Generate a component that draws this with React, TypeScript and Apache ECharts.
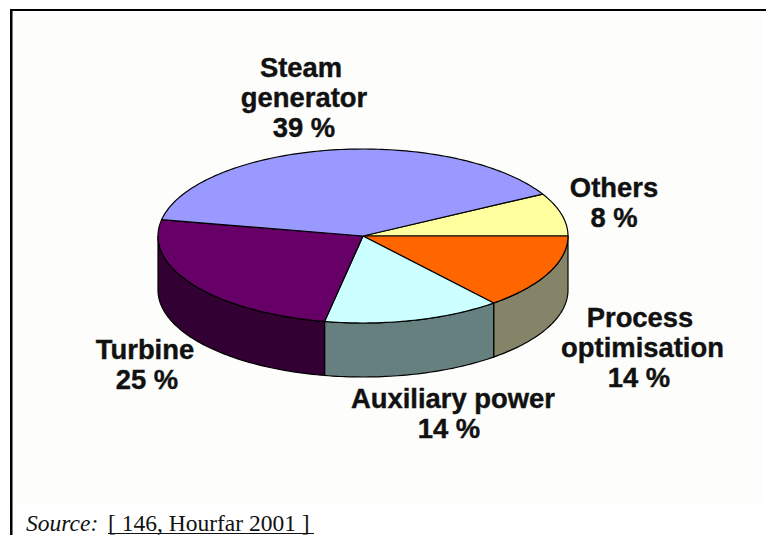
import React, { useEffect, useRef } from "react";
import * as echarts from "echarts";

const categories = ["Others", "Process optimisation", "Auxiliary power", "Turbine", "Steam generator"];
const values = [8, 14, 14, 25, 39];
const topColors = ["#ffffa0", "#ff6600", "#ccffff", "#660066", "#9999ff"];
const wallColors = ["#808050", "#858468", "#668080", "#330033", "#4c4c80"];
const labelLines = [
  ["Others", "8 %"],
  ["Process", "optimisation", "14 %"],
  ["Auxiliary power", "14 %"],
  ["Turbine", "25 %"],
  ["Steam", "generator", "39 %"],
];
const labelX = [
  [614, 614],
  [640, 642.5, 639],
  [453, 449],
  [145, 147],
  [301, 304, 304],
];
const labelTop = [187, 317, 398, 349, 67];

const CX = 363;
const CY = 236;
const RX = 205;
const RY = 87;
const DEPTH = 54;
const LINE_H = 30;
const total = values.reduce((a, b) => a + b, 0);
const startOffset = -(values[0] / total) * Math.PI * 2;

function arc(a0: number, a1: number, dy: number): number[][] {
  const pts: number[][] = [];
  const n = Math.max(2, Math.ceil(Math.abs(a1 - a0) / 0.02));
  for (let i = 0; i <= n; i++) {
    const a = a0 + ((a1 - a0) * i) / n;
    pts.push([CX + RX * Math.cos(a), CY + RY * Math.sin(a) + dy]);
  }
  return pts;
}

export default function App() {
  const ref = useRef<HTMLDivElement>(null);
  useEffect(() => {
    document.body.style.margin = "0";
    const chart = echarts.init(ref.current!, null, { renderer: "svg" });
    const labelGraphics: any[] = [];
    labelLines.forEach((lines, i) => {
      lines.forEach((line, j) => {
        labelGraphics.push({
          type: "text",
          z: 10,
          x: labelX[i][j],
          y: labelTop[i] + j * LINE_H,
          style: {
            text: line,
            fill: "#111111",
            stroke: "#111111",
            lineWidth: 0.4,
            font: 'bold 27.4px "Liberation Sans", Arial, sans-serif',
            textAlign: "center",
            textVerticalAlign: "middle",
          },
        });
      });
    });
    chart.setOption({
      animation: false,
      backgroundColor: "#ffffff",
      graphic: [
        { type: "rect", z: 0, shape: { x: 12, y: 11, width: 750, height: 492 }, style: { fill: "#fdfdfb" } },
        { type: "rect", z: 1, shape: { x: 10, y: 9, width: 756, height: 2 }, style: { fill: "#000000" } },
        { type: "rect", z: 1, shape: { x: 10, y: 9, width: 2.5, height: 526 }, style: { fill: "#000000" } },
        ...labelGraphics,
        {
          type: "text",
          z: 10,
          x: 26,
          y: 523,
          style: {
            text: "Source:",
            fill: "#111111",
            font: 'italic 23.5px "Liberation Serif", "Times New Roman", serif',
            textVerticalAlign: "middle",
          },
        },
        {
          type: "text",
          z: 10,
          x: 108,
          y: 523,
          style: {
            text: "[ 146, Hourfar 2001 ]",
            fill: "#111111",
            font: '23.5px "Liberation Serif", "Times New Roman", serif',
            textVerticalAlign: "middle",
          },
        },
        { type: "line", z: 10, shape: { x1: 108, y1: 533.5, x2: 314, y2: 533.5 }, style: { stroke: "#111111", lineWidth: 1 } },
      ],
      series: [
        {
          type: "custom",
          coordinateSystem: "none",
          name: "Share",
          clip: false,
          data: values.map((v, i) => ({ name: categories[i], value: v })),
          renderItem: (params: any, api: any) => {
            const i = params.dataIndex;
            const before = values.slice(0, i).reduce((a, b) => a + b, 0);
            const a0 = startOffset + (before / total) * Math.PI * 2;
            const a1 = startOffset + ((before + (api.value(0) as number)) / total) * Math.PI * 2;
            const children: any[] = [];
            const wStart = Math.max(a0, 0);
            const wEnd = Math.min(a1, Math.PI);
            if (wStart < wEnd) {
              children.push({
                type: "polygon",
                shape: { points: [...arc(wStart, wEnd, 0), ...arc(wEnd, wStart, DEPTH)] },
                style: { fill: wallColors[i], stroke: "#000000", lineWidth: 1.2 },
              });
            }
            children.push({
              type: "polygon",
              shape: { points: [[CX, CY], ...arc(a0, a1, 0)] },
              style: { fill: topColors[i], stroke: "#000000", lineWidth: 1.2 },
            });
            return { type: "group", children };
          },
        },
      ],
    });
    return () => chart.dispose();
  }, []);
  return <div ref={ref} style={{ width: 766, height: 535 }} />;
}
